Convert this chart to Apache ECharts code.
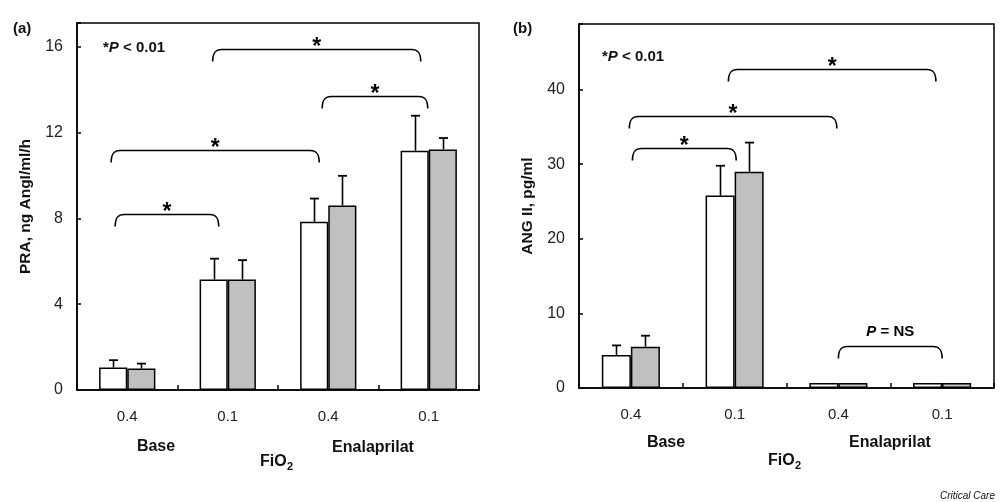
<!DOCTYPE html>
<html><head><meta charset="utf-8">
<script src="https://cdn.jsdelivr.net/npm/echarts@6/dist/echarts.min.js"></script>
<style>html,body{margin:0;padding:0;background:#fff}#c{width:1000px;height:502px}</style>
</head><body><div id="c"></div>
<script>
// ---------- data ----------
const categories = ['0.4', '0.1', '0.4', '0.1'];
const groupLabels = ['Base', 'Enalaprilat'];

// Panel (a): PRA
const aTicks = [0, 4, 8, 12, 16];
const aWhite = [1.05, 5.15, 7.84, 11.15];
const aWhiteErr = [1.39, 6.12, 8.92, 12.78];
const aGrey = [1.0, 5.15, 8.6, 11.21];
const aGreyErr = [1.23, 6.05, 9.98, 11.74];
const aBrFrom = [-0.12, -0.16, 1.94, 0.85];
const aBrTo = [0.91, 1.91, 2.99, 2.92];
const aBrY = [8.22, 11.19, 13.68, 15.9];
const aBrLabel = ['*', '*', '*', '*'];

// Panel (b): ANG II
const bTicks = [0, 10, 20, 30, 40];
const bWhite = [4.42, 25.8, 0.67, 0.67];
const bWhiteErr = [5.71, 29.8, null, null];
const bGrey = [5.54, 29.0, 0.67, 0.67];
const bGreyErr = [7.01, 32.9, null, null];
const bBrFrom = [0.015, -0.015, 0.94, 2.0];
const bBrTo = [1.015, 1.985, 2.94, 3.0];
const bBrY = [32.2, 36.5, 42.7, 5.58];
const bBrLabel = ['*', '*', '*', '{i|P} = NS'];

// ---------- rendering ----------
const FONT = '"Liberation Sans", Arial, sans-serif';
const BAR_W = 0.28;

function errRender(side) {
  return function (params, api) {
    const i = api.value(0), top = api.value(1), base = api.value(2);
    const bw = api.size([1, 0])[0];
    const c = api.coord([i, base]);
    const t = api.coord([i, top]);
    const x = Math.round(c[0] + side * bw * BAR_W / 2) + 0.5;
    return {
      type: 'group', children: [
        { type: 'line', shape: { x1: x, y1: c[1], x2: x, y2: t[1] }, style: { stroke: '#000', lineWidth: 1.6 } },
        { type: 'line', shape: { x1: x - 4.5, y1: t[1], x2: x + 4.5, y2: t[1] }, style: { stroke: '#000', lineWidth: 1.8 } }
      ]
    };
  };
}
function errData(vals, errs) {
  return vals.map((v, i) => errs[i] == null ? null : [i, errs[i], v]).filter(Boolean);
}
function bracketRender(labels) {
  return function (params, api) {
    const y = api.value(1), from = api.value(2), to = api.value(3);
    const p0 = api.coord([0, y]);
    const bw = api.size([1, 0])[0];
    const x1 = p0[0] + from * bw, x2 = p0[0] + to * bw, yy = Math.round(p0[1]) + 0.5;
    const d = 12, r = 9;
    const path = 'M' + x1 + ',' + (yy + d) + ' C' + x1 + ',' + (yy + 3) + ' ' + (x1 + 3) + ',' + yy + ' ' + (x1 + r) + ',' + yy +
      ' L' + (x2 - r) + ',' + yy + ' C' + (x2 - 3) + ',' + yy + ' ' + x2 + ',' + (yy + 3) + ' ' + x2 + ',' + (yy + d);
    const lab = labels[params.dataIndex];
    const isStar = lab === '*';
    return {
      type: 'group', children: [
        { type: 'path', shape: { pathData: path }, style: { stroke: '#000', lineWidth: 1.6, fill: null } },
        {
          type: 'text', style: {
            text: lab, x: (x1 + x2) / 2, y: isStar ? yy - 2 : yy - 15,
            align: 'center', verticalAlign: 'middle',
            font: isStar ? 'bold 23px ' + FONT : 'bold 15px ' + FONT,
            fill: '#000',
            rich: { i: { fontStyle: 'italic', fontWeight: 'bold', fontSize: 15, fontFamily: FONT } }
          }
        }
      ]
    };
  };
}
function brData(from, to, ys) {
  return ys.map((y, i) => [0, y, from[i], to[i]]);
}

function yAxis(gi, max, interval, ticks, name, gap) {
  return {
    gridIndex: gi, type: 'value', min: 0, max: max, interval: interval,
    name: name, nameLocation: 'middle', nameRotate: 90, nameGap: gap,
    nameTextStyle: { fontFamily: FONT, fontWeight: 'bold', fontSize: 15.5, color: '#111' },
    axisLine: { show: true, lineStyle: { color: '#000', width: 1.5 } },
    axisTick: { show: true, inside: true, length: 4, lineStyle: { color: '#000', width: 1.5 } },
    axisLabel: {
      fontFamily: FONT, fontSize: 16, color: '#222', margin: 14,
      formatter: v => ticks.indexOf(v) >= 0 ? String(v) : ''
    },
    splitLine: { show: false }
  };
}
function xAxis(gi) {
  return {
    gridIndex: gi, type: 'category', data: categories,
    axisLine: { show: true, lineStyle: { color: '#000', width: 1.5 } },
    axisTick: { show: true, inside: true, length: 5, lineStyle: { color: '#000', width: 1.5 } },
    axisLabel: { fontFamily: FONT, fontSize: 15, color: '#222', margin: 19 },
    splitLine: { show: false }
  };
}
function bar(gi, data, color, name) {
  return {
    type: 'bar', name: name, xAxisIndex: gi, yAxisIndex: gi, data: data,
    barWidth: (BAR_W * 100) + '%', barGap: '0%',
    itemStyle: { color: color, borderColor: '#000', borderWidth: 1.5 },
    animation: false
  };
}
function custom(gi, data, render, z) {
  return {
    type: 'custom', xAxisIndex: gi, yAxisIndex: gi, data: data, renderItem: render,
    encode: { x: 0, y: 1 }, z: z || 3, animation: false, clip: false
  };
}

function txt(x, y, text, font, align, extra) {
  return Object.assign({
    type: 'text', x: x, y: y, z: 10,
    style: { text: text, font: font, fill: '#111', align: align || 'center', verticalAlign: 'middle' }
  }, extra || {});
}

const chart = echarts.init(document.getElementById('c'), null, { renderer: 'canvas' });
chart.setOption({
  backgroundColor: '#fff',
  animation: false,
  grid: [
    { left: 77, top: 23, width: 402, height: 367, show: true, borderColor: '#000', borderWidth: 1.5, backgroundColor: 'transparent' },
    { left: 579, top: 24, width: 415, height: 364, show: true, borderColor: '#000', borderWidth: 1.5, backgroundColor: 'transparent' }
  ],
  xAxis: [xAxis(0), xAxis(1)],
  yAxis: [
    yAxis(0, 17.1, 4, aTicks, 'PRA, ng AngI/ml/h', 43),
    yAxis(1, 48.8, 10, bTicks, 'ANG II, pg/ml', 43)
  ],
  series: [
    bar(0, aWhite, '#ffffff', 'a-white'),
    bar(0, aGrey, '#c0c0c0', 'a-grey'),
    custom(0, errData(aWhite, aWhiteErr), errRender(-1)),
    custom(0, errData(aGrey, aGreyErr), errRender(1)),
    custom(0, brData(aBrFrom, aBrTo, aBrY), bracketRender(aBrLabel)),
    bar(1, bWhite, '#ffffff', 'b-white'),
    bar(1, bGrey, '#c0c0c0', 'b-grey'),
    custom(1, errData(bWhite, bWhiteErr), errRender(-1)),
    custom(1, errData(bGrey, bGreyErr), errRender(1)),
    custom(1, brData(bBrFrom, bBrTo, bBrY), bracketRender(bBrLabel))
  ],
  graphic: [
    txt(13, 29, '(a)', 'bold 15px ' + FONT, 'left'),
    txt(513, 29, '(b)', 'bold 15px ' + FONT, 'left'),
    { type: 'text', x: 103, y: 48, z: 10, style: { text: '*{i|P} < 0.01', font: 'bold 15px ' + FONT, fill: '#111', verticalAlign: 'middle', rich: { i: { fontStyle: 'italic', fontWeight: 'bold', fontSize: 15, fontFamily: FONT } } } },
    { type: 'text', x: 602, y: 57, z: 10, style: { text: '*{i|P} < 0.01', font: 'bold 15px ' + FONT, fill: '#111', verticalAlign: 'middle', rich: { i: { fontStyle: 'italic', fontWeight: 'bold', fontSize: 15, fontFamily: FONT } } } },
    txt(156, 447, groupLabels[0], 'bold 16px ' + FONT),
    txt(373, 448, groupLabels[1], 'bold 16px ' + FONT),
    txt(666, 443, groupLabels[0], 'bold 16px ' + FONT),
    txt(890, 443, groupLabels[1], 'bold 16px ' + FONT),
    txt(260, 462, 'FiO', 'bold 16px ' + FONT, 'left'),
    txt(287, 467, '2', 'bold 11px ' + FONT, 'left'),
    txt(768, 461, 'FiO', 'bold 16px ' + FONT, 'left'),
    txt(795, 466, '2', 'bold 11px ' + FONT, 'left'),
    txt(995, 496, 'Critical Care', 'italic 10px ' + FONT, 'right')
  ]
});
</script>
</body></html>
